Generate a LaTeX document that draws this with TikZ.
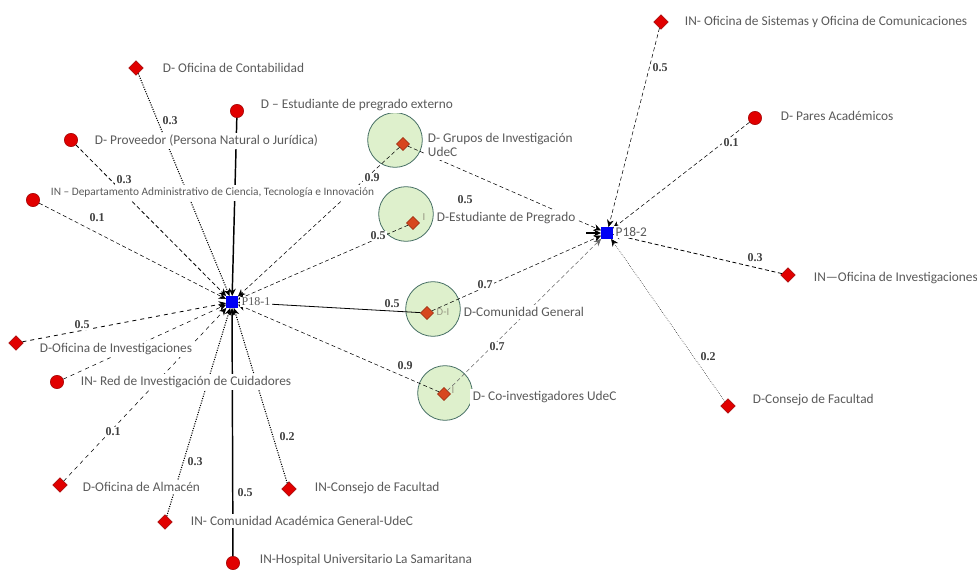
\documentclass[tikz,border=0pt]{standalone}
\usepackage{fontspec}
\setmainfont{Carlito}
\newfontfamily\numfont{Liberation Serif}
\usepackage{xcolor}
\usetikzlibrary{shapes.geometric,arrows.meta}
\definecolor{txtgray}{RGB}{90,90,90}
\definecolor{softgray}{RGB}{150,150,130}
\definecolor{mred}{RGB}{225,0,0}
\definecolor{mredd}{RGB}{160,0,0}
\definecolor{inred}{RGB}{215,70,30}
\definecolor{ringfill}{RGB}{222,240,204}
\definecolor{ringdraw}{RGB}{70,110,100}
\definecolor{hubblue}{RGB}{0,0,245}

\begin{document}
\begin{tikzpicture}[x=0.75pt,y=-0.75pt,
reddia/.style={diamond,fill=mred,draw=mredd,inner sep=0pt,minimum size=11pt},
redcirc/.style={circle,fill=mred,draw=mredd,inner sep=0pt,minimum size=10pt},
innerdia/.style={diamond,fill=inred,draw=inred!70!black,inner sep=0pt,minimum size=10pt},
greenring/.style={circle,fill=ringfill,draw=ringdraw,line width=0.6pt,inner sep=0pt,minimum size=41pt},
hubsq/.style={rectangle,fill=hubblue,inner sep=0pt,minimum size=8.5pt},
lbl/.style={anchor=west,fill=white,text=txtgray,inner sep=2pt,font=\fontsize{10}{11}\selectfont},
hublbl/.style={anchor=west,fill=white,text=txtgray,inner sep=1pt},
wt/.style={fill=white,text=black!75,inner sep=1pt,font=\numfont\fontsize{9}{10}\selectfont\bfseries},
faint/.style={text=softgray,inner sep=0pt,font=\fontsize{8}{9}\selectfont},
tohub/.style={-{Stealth[length=5.5pt,width=5pt]},black}]
\useasboundingbox (0,0) rectangle (977,570);
\node[greenring] (grpc) at (395,140) {};
\node[greenring] (estc) at (406,214) {};
\node[greenring] (comc) at (433,309) {};
\node[greenring] (coic) at (445,393) {};
\node[innerdia] (grp) at (403,144) {};
\node[innerdia] (est) at (413,223) {};
\node[innerdia] (com) at (427,313) {};
\node[innerdia] (coi) at (444,394) {};
\node[hubsq] (h1) at (232,302) {};
\node[hubsq] (h2) at (607,233) {};
\node[reddia] (cont) at (136,68) {};
\node[redcirc] (ext) at (237,111) {};
\node[redcirc] (prov) at (71,140) {};
\node[redcirc] (dep) at (33,200) {};
\node[reddia] (ofi1) at (16,343) {};
\node[redcirc] (red) at (57,382) {};
\node[reddia] (alm) at (60,485) {};
\node[reddia] (cag) at (165,522) {};
\node[redcirc] (hos) at (233,563) {};
\node[reddia] (cfa) at (289,489) {};
\node[reddia] (sis) at (661,22) {};
\node[redcirc] (par) at (755,118) {};
\node[reddia] (ofi2) at (788,275) {};
\node[reddia] (con2) at (728,406) {};
\coordinate (stub) at (586,233);
\draw[tohub,densely dotted,thick] (cont) -- (h1);
\draw[tohub,line width=1.1pt] (ext) -- (h1);
\draw[tohub,densely dashed,semithick] (prov) -- (h1);
\draw[tohub,densely dashed] (dep) -- (h1);
\draw[tohub,densely dashed,thin] (grp) -- (h1);
\draw[tohub,densely dashed] (est) -- (h1);
\draw[tohub,semithick] (com) -- (h1);
\draw[tohub,densely dashed] (coi) -- (h1);
\draw[tohub,dashed,semithick] (ofi1) -- (h1);
\draw[tohub,dashed] (red) -- (h1);
\draw[tohub,dashed] (alm) -- (h1);
\draw[tohub,densely dotted,thick] (cag) -- (h1);
\draw[tohub,line width=1.1pt] (hos) -- (h1);
\draw[tohub,densely dotted,thick] (cfa) -- (h1);
\draw[tohub,densely dashed] (sis) -- (h2);
\draw[tohub,densely dashed] (par) -- (h2);
\draw[tohub,densely dashed,semithick] (ofi2) -- (h2);
\draw[tohub,densely dotted] (con2) -- (h2);
\draw[tohub,densely dashed] (grp) -- (h2);
\draw[tohub,densely dashed] (com) -- (h2);
\draw[tohub,densely dashed,black!60] (coi) -- (h2);
\draw[tohub,thick] (stub) -- (h2);
\node[lbl] (contl) at (160,68) {D- Oficina de Contabilidad};
\node[lbl] (extl) at (258,105) {D -- Estudiante de pregrado externo};
\node[lbl] (provl) at (92,141) {D- Proveedor (Persona Natural o Jurídica)};
\node[lbl,font=\fontsize{8.5}{10}\selectfont] (depl) at (48,193) {IN -- Departamento Administrativo de Ciencia, Tecnología e Innovación};
\node[lbl] (ofi1l) at (37,349) {D-Oficina de Investigaciones};
\node[lbl] (redl) at (78,382) {IN- Red de Investigación de Cuidadores};
\node[lbl] (alml) at (80,487) {D-Oficina de Almacén};
\node[lbl] (cagl) at (188,521) {IN- Comunidad Académica General-UdeC};
\node[lbl] (hosl) at (257,560) {IN-Hospital Universitario La Samaritana};
\node[lbl] (cfal) at (312,488) {IN-Consejo de Facultad};
\node[lbl,align=left] (grpl) at (425,145) {D- Grupos de Investigación\\UdeC};
\node[lbl] (estl) at (434,218) {D-Estudiante de Pregrado};
\node[lbl] (coml) at (461,312) {D-Comunidad General};
\node[lbl] (coil) at (470,397) {D- Co-investigadores UdeC};
\node[lbl] (sisl) at (682,22) {IN- Oficina de Sistemas y Oficina de Comunicaciones};
\node[lbl] (parl) at (778,116) {D- Pares Académicos};
\node[lbl] (ofi2l) at (811,278) {IN---Oficina de Investigaciones};
\node[lbl] (con2l) at (750,400) {D-Consejo de Facultad};
\node[hublbl,font=\numfont\fontsize{9}{10}\selectfont] (h1l) at (240,302) {P18-1};
\node[hublbl,font=\fontsize{10}{11}\selectfont] (h2l) at (614,232) {P18-2};
\node[faint] (comi) at (443,312) {D-I};
\node[faint] (coii) at (453,390) {I};
\node[faint] (esti) at (424,217) {I};
\node[wt] (w1) at (170,121) {0.3};
\node[wt] (w2) at (124,180) {0.3};
\node[wt] (w3) at (97,218) {0.1};
\node[wt] (w4) at (372,178) {0.9};
\node[wt] (w5) at (378,236) {0.5};
\node[wt] (w6) at (392,304) {0.5};
\node[wt] (w7) at (405,366) {0.9};
\node[wt] (w8) at (82,325) {0.5};
\node[wt] (w9) at (113,432) {0.1};
\node[wt] (w10) at (195,462) {0.3};
\node[wt] (w11) at (245,493) {0.5};
\node[wt] (w12) at (287,437) {0.2};
\node[wt] (w13) at (465,200) {0.5};
\node[wt] (w14) at (485,285) {0.7};
\node[wt] (w15) at (497,347) {0.7};
\node[wt] (w16) at (660,68) {0.5};
\node[wt] (w17) at (731,143) {0.1};
\node[wt] (w18) at (755,258) {0.3};
\node[wt] (w19) at (708,357) {0.2};
\end{tikzpicture}
\end{document}
